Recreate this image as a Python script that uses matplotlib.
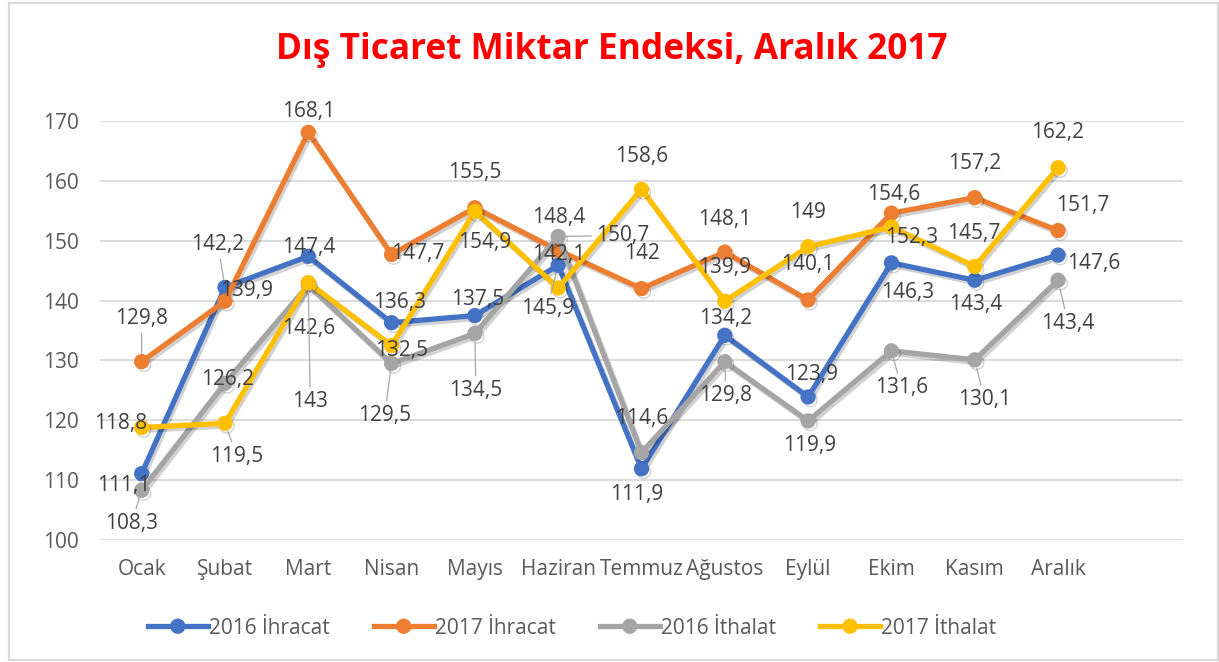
import matplotlib
matplotlib.use("Agg")
import matplotlib.pyplot as plt
import matplotlib.patheffects as pe
from matplotlib.patches import Rectangle

plt.rcParams['font.family'] = ['Open Sans', 'DejaVu Sans']

months = ["Ocak", "Şubat", "Mart", "Nisan", "Mayıs", "Haziran", "Temmuz",
          "Ağustos", "Eylül", "Ekim", "Kasım", "Aralık"]
ihracat_2016 = [111.1, 142.2, 147.4, 136.3, 137.5, 145.9, 111.9, 134.2, 123.9, 146.3, 143.4, 147.6]
ihracat_2017 = [129.8, 139.9, 168.1, 147.7, 155.5, 148.4, 142.0, 148.1, 140.1, 154.6, 157.2, 151.7]
ithalat_2016 = [108.3, 126.2, 142.6, 129.5, 134.5, 150.7, 114.6, 129.8, 119.9, 131.6, 130.1, 143.4]
ithalat_2017 = [118.8, 119.5, 143.0, 132.5, 154.9, 142.1, 158.6, 139.9, 149.0, 152.3, 145.7, 162.2]
series_names = ["2016 İhracat", "2017 İhracat", "2016 İthalat", "2017 İthalat"]
title = "Dış Ticaret Miktar Endeksi, Aralık 2017"
yticks = [100, 110, 120, 130, 140, 150, 160, 170]

colors = ["#4472C4", "#ED7D31", "#A5A5A5", "#FFC000"]

# label offsets in pixels (dx right, dy down as in image)
offs_blue = [(-18, 12), (-7, -43), (0, -9), (8, -20), (3, -16), (-11, 43), (-5, 26),
             (1, -17), (3, -22), (16, 30), (1, 24), (36, 8)]
offs_orange = [(0, -43), (22, -11), (0, -21), (26, -1), (0, -35), (0, -33), (0, -35),
               (0, -33), (0, -35), (2, -19), (0, -34), (25, -25)]
offs_gray = [(-10, 33), (3, -4), (0, 43), (-7, 52), (1, 57), (64, -1), (0, -34),
             (1, 34), (2, 25), (10, 37), (10, 40), (10, 43)]
offs_yellow = [(-21, -4), (12, 33), (2, 119), (10, 5), (10, 31), (0, -34), (0, -33),
               (0, -34), (0, -34), (20, 11), (-1, -33), (0, -35)]
leaders = [{1, 5}, {0}, {0, 3, 4, 5, 7, 9, 10, 11}, {1, 2}]

W, H = 1219, 662
fig = plt.figure(figsize=(W / 100, H / 100), dpi=100)
fig.patch.set_facecolor("white")
fig.patches.append(Rectangle((9 / W, 2 / H), 1209 / W, 657 / H, transform=fig.transFigure,
                             fill=False, edgecolor="#d9d9d9", linewidth=1.6))

ax = fig.add_axes([100 / W, 122 / H, 1083 / W, 419 / H])
ax.set_xlim(-0.5, 12.5)
ax.set_ylim(100, 170)
ax.set_yticks(yticks)
ax.set_yticklabels([str(v) for v in yticks])
ax.set_xticks(range(len(months)))
ax.set_xticklabels(months)
for s in ax.spines.values():
    s.set_visible(False)
ax.grid(axis="y", color="#d9d9d9", linewidth=1.3)
ax.set_axisbelow(True)
ax.tick_params(length=0, labelsize=15, labelcolor="#595959")
ax.tick_params(axis="y", pad=15)
ax.tick_params(axis="x", pad=14)

data = [ihracat_2016, ihracat_2017, ithalat_2016, ithalat_2017]
offsets = [offs_blue, offs_orange, offs_gray, offs_yellow]
x = list(range(len(months)))
handles = []
for k, (vals, col, name) in enumerate(zip(data, colors, series_names)):
    ln, = ax.plot(x, vals, color=col, lw=3.8, marker="o", markersize=10,
                  markeredgecolor=col, label=name, zorder=2 + k,
                  path_effects=[pe.SimpleLineShadow(offset=(1.5, -2), shadow_color="black", alpha=0.18),
                                pe.Normal()])
    handles.append(ln)

def fmt(v):
    return str(int(v)) if float(v).is_integer() else f"{v:.1f}".replace(".", ",")

for k, (vals, offs) in enumerate(zip(data, offsets)):
    for i, v in enumerate(vals):
        dx, dy = offs[i]
        kw = {}
        if i in leaders[k]:
            kw["arrowprops"] = dict(arrowstyle="-", color="#a6a6a6", lw=0.9,
                                    shrinkA=1, shrinkB=6)
        ax.annotate(fmt(v), xy=(i, v), xytext=(dx, -dy), textcoords="offset pixels",
                    ha="center", va="center", fontsize=15, color="#404040",
                    zorder=10, **kw)

leg = fig.legend(handles=handles, loc="center", bbox_to_anchor=(572 / W, 1 - 628 / H),
                 ncol=4, frameon=False, fontsize=15, handlelength=2.9,
                 handletextpad=0.05, columnspacing=2.1, labelcolor="#595959")
for lh in leg.get_lines():
    lh.set_path_effects([pe.Normal()])

t = fig.text(612 / W, 1 - 50 / H, title, ha="center", va="center", color="#FF0000",
             fontsize=24, fontweight="bold")
fig.canvas.draw()
w = t.get_window_extent().width
t.set_fontsize(24 * 673 / w)

fig.savefig("out.png", dpi=100, facecolor="white")
